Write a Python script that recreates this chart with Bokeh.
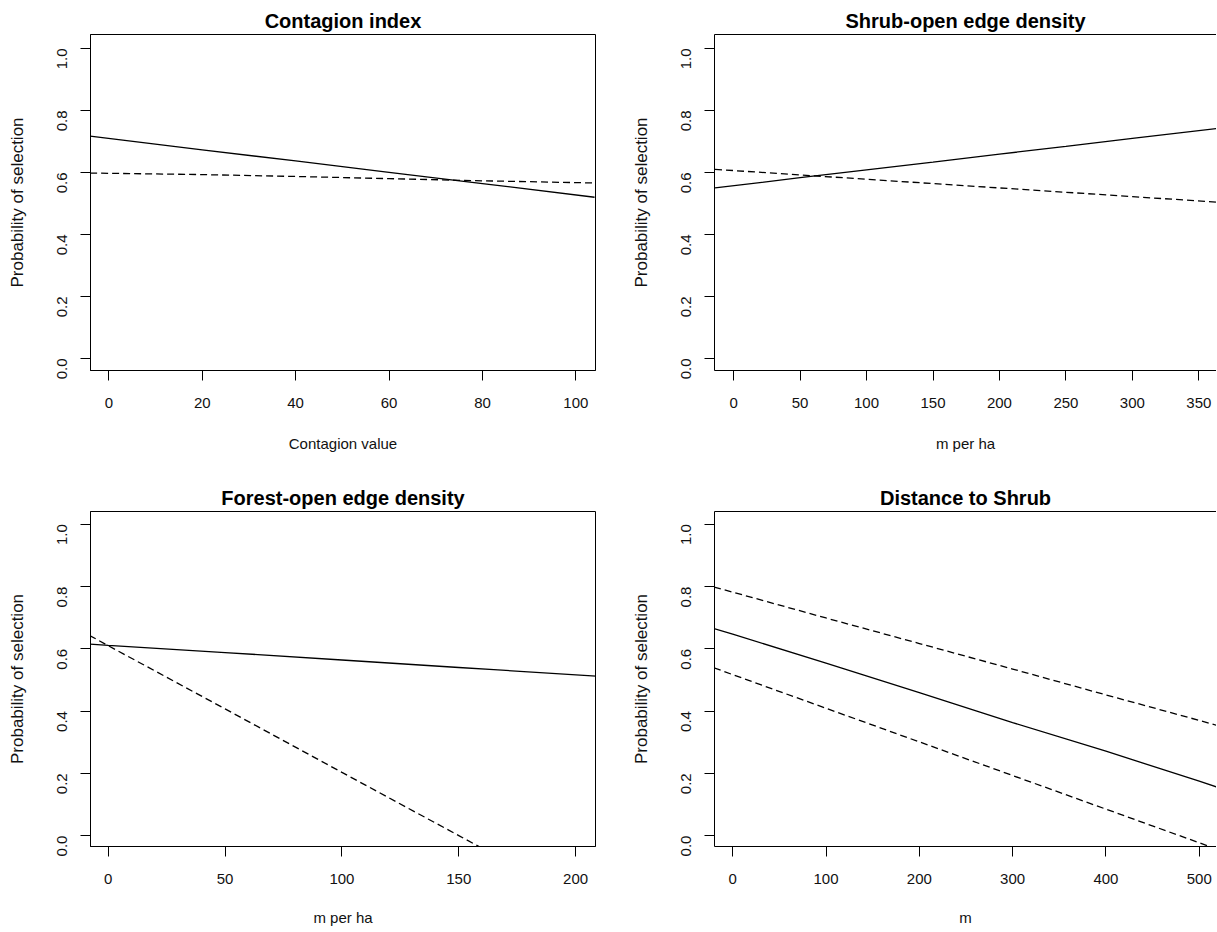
import math
from bokeh.plotting import figure
from bokeh.layouts import column, row
from bokeh.models import LinearAxis, FixedTicker, Range1d, PrintfTickFormatter
from bokeh.embed import file_html
from bokeh.resources import INLINE

# ---------------- data ----------------
titles = ["Contagion index", "Shrub-open edge density",
          "Forest-open edge density", "Distance to Shrub"]
x_labels = ["Contagion value", "m per ha", "m per ha", "m"]
y_label = "Probability of selection"
y_ticks = [0.0, 0.2, 0.4, 0.6, 0.8, 1.0]

contagion_x = [-4, 20, 40, 60, 80, 104]
contagion_solid = [0.717, 0.673, 0.637, 0.600, 0.564, 0.520]
contagion_dashed = [0.598, 0.593, 0.587, 0.580, 0.573, 0.566]
contagion_ticks = [0, 20, 40, 60, 80, 100]

shrub_x = [-14, 50, 100, 150, 200, 250, 300, 364]
shrub_solid = [0.550, 0.583, 0.608, 0.633, 0.659, 0.684, 0.710, 0.742]
shrub_dashed = [0.610, 0.592, 0.578, 0.564, 0.550, 0.536, 0.522, 0.504]
shrub_ticks = [0, 50, 100, 150, 200, 250, 300, 350]

forest_x = [-8, 0, 50, 100, 150, 165, 209]
forest_solid = [0.615, 0.611, 0.588, 0.564, 0.540, 0.533, 0.512]
forest_dashed_x = [-8, 0, 50, 100, 150, 165]
forest_dashed = [0.643, 0.610, 0.407, 0.203, 0.000, -0.061]
forest_ticks = [0, 50, 100, 150, 200]

dist_x = [-20, 0, 100, 200, 300, 400, 500, 520]
dist_solid = [0.665, 0.647, 0.554, 0.459, 0.363, 0.271, 0.175, 0.155]
dist_upper = [0.798, 0.782, 0.699, 0.617, 0.535, 0.452, 0.370, 0.353]
dist_lower = [0.539, 0.517, 0.409, 0.301, 0.193, 0.085, -0.023, -0.045]
dist_ticks = [0, 100, 200, 300, 400, 500]

FONT = "Liberation Sans"
TXT = "#111111"


def style_axis(ax, vertical=False, row2=False):
    ax.axis_line_color = "black"
    ax.axis_line_width = 1
    ax.major_tick_line_color = "black"
    ax.major_tick_line_width = 1
    ax.major_tick_out = 10
    ax.major_tick_in = 0
    ax.minor_tick_line_color = None
    ax.major_label_text_font = FONT
    ax.major_label_text_font_size = "15px"
    ax.major_label_text_color = TXT
    ax.axis_label_text_font = FONT
    ax.axis_label_text_font_style = "normal"
    ax.axis_label_text_color = TXT
    if vertical:
        ax.major_label_orientation = math.pi / 2
        ax.major_label_standoff = 18
        ax.axis_label_standoff = 23
        ax.axis_label_text_font_size = "17px"
    else:
        ax.major_label_standoff = 17
        ax.axis_label_standoff = 22 if row2 else 24
        ax.axis_label_text_font_size = "15px"


def blank_axis():
    a = LinearAxis(ticker=FixedTicker(ticks=[]))
    a.major_tick_line_color = None
    a.minor_tick_line_color = None
    a.major_tick_out = 0
    a.major_tick_in = 0
    a.major_label_standoff = 0
    a.major_label_text_font_size = "0px"
    a.axis_line_color = "black"
    a.axis_line_width = 1
    return a


def panel(title, xlabel, xr, yr, xticks, w, h, bl, br, bt, bb, full_box, row2, title_offset=0):
    p = figure(width=w, height=h, x_range=Range1d(*xr), y_range=Range1d(*yr),
               output_backend="svg", toolbar_location=None,
               x_axis_location=None, y_axis_location=None,
               min_border_left=bl, min_border_right=br,
               min_border_top=bt, min_border_bottom=bb)
    p.xgrid.visible = False
    p.ygrid.visible = False
    p.background_fill_color = "white"
    p.border_fill_color = "white"

    xa = LinearAxis(ticker=FixedTicker(ticks=xticks), axis_label=xlabel)
    style_axis(xa, row2=row2)
    ya = LinearAxis(ticker=FixedTicker(ticks=y_ticks), axis_label=y_label,
                    formatter=PrintfTickFormatter(format="%.1f"))
    style_axis(ya, vertical=True)
    p.add_layout(xa, "below")
    p.add_layout(ya, "left")

    if full_box:
        p.outline_line_color = "black"
        p.outline_line_width = 1
        p.outline_line_alpha = 1
    else:
        p.outline_line_color = None
        p.add_layout(blank_axis(), "above")

    p.title.text = title
    p.title.text_font = FONT
    p.title.text_font_size = "20px"
    p.title.text_font_style = "bold"
    p.title.text_color = "black"
    p.title.align = "center"
    p.title.standoff = 5
    p.title.offset = title_offset
    return p


DASH = "7 4"
LW = 1.3

W1, W2 = 628, 588
H1, H2 = 477, 454
Y1 = (-0.039, 1.045)
Y2 = (-0.035, 1.041)

p1 = panel(titles[0], x_labels[0], (-3.92, 104.2), Y1, contagion_ticks, W1, H1, 90, 33, 34, 107, True, False)
p1.line(contagion_x, contagion_solid, line_color="black", line_width=LW)
p1.line(contagion_x, contagion_dashed, line_color="black", line_width=LW, line_dash=DASH)

p2 = panel(titles[1], x_labels[1], (-14.4, 363.3), Y1, shrub_ticks, W2, H1, 86, 0, 34, 107, False, False, title_offset=8)
p2.line(shrub_x, shrub_solid, line_color="black", line_width=LW)
p2.line(shrub_x, shrub_dashed, line_color="black", line_width=LW, line_dash=DASH)

p3 = panel(titles[2], x_labels[2], (-7.6, 208.5), Y2, forest_ticks, W1, H2, 90, 33, 34, 85, True, True)
p3.line(forest_x, forest_solid, line_color="black", line_width=LW)
p3.line(forest_dashed_x, forest_dashed, line_color="black", line_width=LW, line_dash=DASH)

p4 = panel(titles[3], x_labels[3], (-19.5, 518.5), Y2, dist_ticks, W2, H2, 86, 0, 34, 85, False, True, title_offset=8)
p4.line(dist_x, dist_solid, line_color="black", line_width=LW)
p4.line(dist_x, dist_upper, line_color="black", line_width=LW, line_dash=DASH)
p4.line(dist_x, dist_lower, line_color="black", line_width=LW, line_dash=DASH)

layout = column(row(p1, p2, spacing=0), row(p3, p4, spacing=0), spacing=0)

open("out.html", "w").write(file_html(layout, INLINE))
